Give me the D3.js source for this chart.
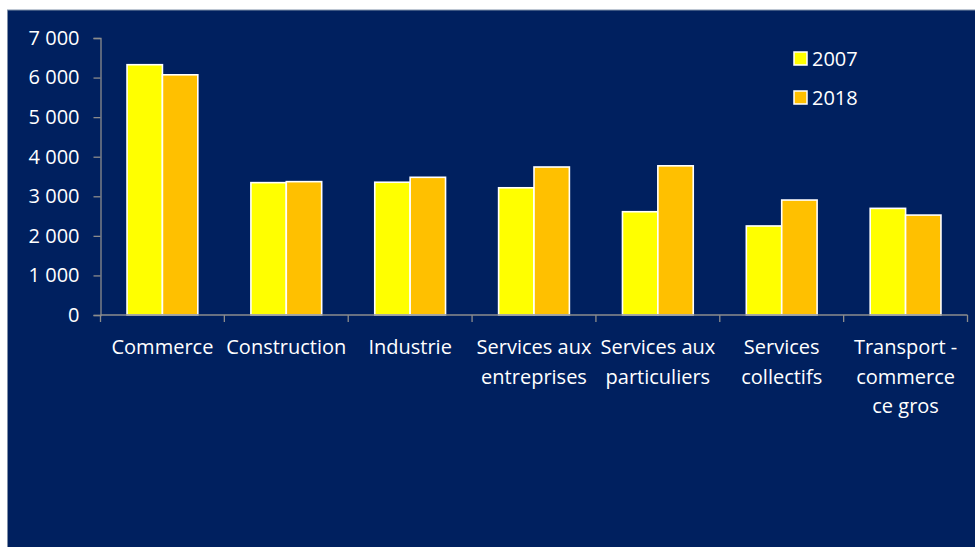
<!DOCTYPE html>
<html><head><meta charset="utf-8">
<script src="https://cdn.jsdelivr.net/npm/d3@7"></script>
<style>
html,body{margin:0;padding:0;background:#fff;}
svg{display:block;}
text{font-family:"Open Sans","Noto Sans",sans-serif;}
</style></head>
<body>
<svg id="c" width="975" height="547"></svg>
<script>
const categories = ["Commerce","Construction","Industrie","Services aux entreprises","Services aux particuliers","Services collectifs","Transport - commerce ce gros"];
const categoryLines = [["Commerce"],["Construction"],["Industrie"],["Services aux","entreprises"],["Services aux","particuliers"],["Services","collectifs"],["Transport -","commerce","ce gros"]];
const seriesNames = ["2007","2018"];
const values2007 = [6325,3345,3355,3215,2610,2250,2695];
const values2018 = [6070,3370,3480,3740,3770,2905,2525];
const yTicks = [0,1000,2000,3000,4000,5000,6000,7000];
const colors = ["#FFFF00","#FFC000"];

const svg = d3.select("#c");
svg.append("rect").attr("x",7.5).attr("y",10).attr("width",975).attr("height",547)
  .attr("fill","#00205F").attr("stroke","#7f8fa8").attr("stroke-width",1);

const x0 = d3.scaleBand().domain(categories).range([100.5,967.5]).paddingInner(0).paddingOuter(0);
const y = d3.scaleLinear().domain([0,7000]).range([315,38]);
const bw = x0.bandwidth();
const gap = 1.5; // gap width 150%
const barW = bw/(2+gap);
const x1 = d3.scaleBand().domain(seriesNames).range([barW*gap/2, barW*gap/2 + 2*barW]);

const fmt = v => d3.format(",")(v).replace(/,/g," ");

// y axis
const yAxis = d3.axisLeft(y).tickValues(yTicks).tickFormat(fmt).tickSize(7).tickPadding(14);
const gy = svg.append("g").attr("transform","translate(100.5,0)").call(yAxis);
gy.select(".domain").attr("stroke","#8c8c8c").attr("stroke-width",1.3);
gy.selectAll(".tick line").attr("stroke","#8c8c8c").attr("stroke-width",1.3);
gy.selectAll(".tick text").attr("fill","#fff").attr("font-size",20).attr("font-family","'Open Sans',sans-serif");

// bars
const data = categories.map((c,i)=>({c, v:[values2007[i],values2018[i]]}));
const g = svg.append("g");
data.forEach(d=>{
  seriesNames.forEach((s,j)=>{
    g.append("rect")
      .attr("x", x0(d.c)+x1(s))
      .attr("y", y(d.v[j]))
      .attr("width", x1.bandwidth())
      .attr("height", y(0)-y(d.v[j]))
      .attr("fill", colors[j])
      .attr("stroke","#fff").attr("stroke-width",1.6);
  });
});

// x axis
const gx = svg.append("g").attr("transform","translate(0,315)");
gx.append("line").attr("x1",100.5).attr("x2",967.5).attr("stroke","#8c8c8c").attr("stroke-width",1.3);
const bounds = categories.map(c=>x0(c)).concat([x0.range()[1]]);
gx.selectAll("line.t").data(bounds).enter().append("line").attr("class","t")
  .attr("x1",d=>d).attr("x2",d=>d).attr("y1",0).attr("y2",7).attr("stroke","#8c8c8c").attr("stroke-width",1.3);
categories.forEach((c,i)=>{
  const t = gx.append("text").attr("x",x0(c)+bw/2).attr("y",39).attr("text-anchor","middle")
    .attr("fill","#fff").attr("font-size",20);
  categoryLines[i].forEach((ln,k)=>{
    t.append("tspan").attr("x",x0(c)+bw/2).attr("y",39+k*29.5).text(ln);
  });
});

// legend
const lg = svg.append("g");
seriesNames.forEach((s,j)=>{
  lg.append("rect").attr("x",794).attr("y",52+j*39).attr("width",13).attr("height",13)
    .attr("fill",colors[j]).attr("stroke","#fff").attr("stroke-width",1.5);
  lg.append("text").attr("x",812).attr("y",66+j*39).attr("fill","#fff").attr("font-size",20).text(s);
});
</script>
</body></html>
